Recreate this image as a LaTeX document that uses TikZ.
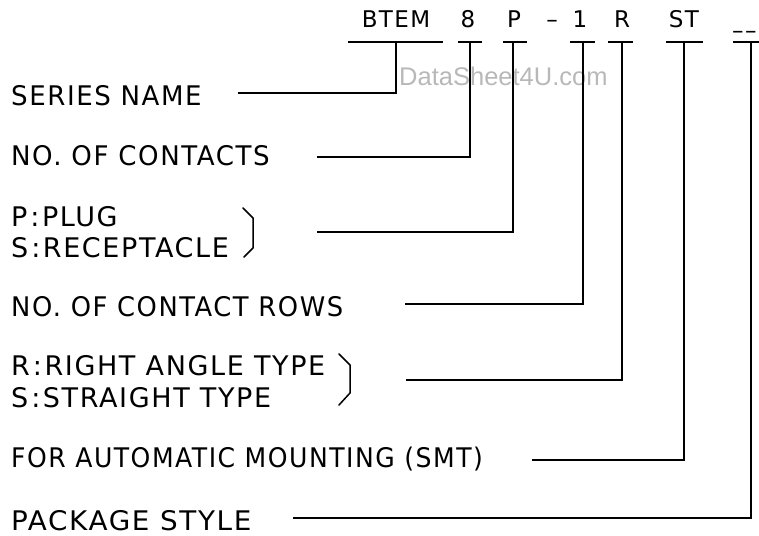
\documentclass[tikz,border=0pt]{standalone}
\usepackage{graphicx}
\usepackage{fontspec}
\setmainfont{DejaVu Sans}[LetterSpace=6]
\newfontfamily\wmfont{Liberation Sans}
\newcommand\hsq[2]{\scalebox{#1}[1]{#2}}
\newcommand\cln{\hspace{3pt}:\hspace{2.5pt}}
\begin{document}
\begin{tikzpicture}[x=1pt,y=-1pt,
  lbl/.style={anchor=base west, inner sep=0pt, font=\fontsize{27}{29}\selectfont},
  code/.style={anchor=base, inner sep=0pt, font=\fontsize{23}{25}\selectfont},
  wire/.style={line width=1.5pt, line join=miter},
  brace/.style={line width=1.5pt, line join=round, line cap=round}]
\useasboundingbox (0,0) rectangle (759,535);
% watermark
\node[text=black!28, font=\wmfont\fontsize{25.5}{27}\selectfont, anchor=base west, inner sep=0pt] (wm) at (399,85) {DataSheet4U.com};
% code letters
\node[code] (cB) at (396,28) {BTEM};
\node[code] (c8) at (468,28) {8};
\node[code] (cP) at (514,28) {P};
\node[code] (cd) at (552,28) {\textendash};
\node[code] (c1) at (580,28) {1};
\node[code] (cR) at (622,28) {R};
\node[code] (cST) at (684,28) {ST};
\node[code, anchor=base west] (cX) at (732,39) {\textendash\textendash};
% labels
\node[lbl] (lSeries) at (11,105) {\hsq{0.965}{SERIES NAME}};
\node[lbl] (lNo) at (11,165) {\hsq{0.966}{NO. OF CONTACTS}};
\node[lbl] (lP) at (11,226) {P\cln PLUG};
\node[lbl] (lS) at (11,257) {S\cln RECEPTACLE};
\node[lbl] (lRows) at (11,316) {\hsq{0.955}{NO. OF CONTACT ROWS}};
\node[lbl] (lR) at (11,375) {R\cln RIGHT ANGLE TYPE};
\node[lbl] (lSt) at (11,407) {S\cln STRAIGHT TYPE};
\node[lbl] (lSmt) at (11,467) {\hsq{0.93}{FOR AUTOMATIC MOUNTING (SMT)}};
\node[lbl] (lPk) at (11,530) {\hsq{1.03}{PACKAGE STYLE}};
% underline junctions
\coordinate (jB) at (396,42);
\coordinate (j8) at (470,42);
\coordinate (jP) at (513,42);
\coordinate (j1) at (583,42);
\coordinate (jR) at (622,42);
\coordinate (jST) at (684,42);
\coordinate (jX) at (751,42);
% underlines
\draw[wire] (348,42) -- (443,42);
\draw[wire] (458,42) -- (482,42);
\draw[wire] (503,42) -- (527,42);
\draw[wire] (570,42) -- (595,42);
\draw[wire] (608,42) -- (633,42);
\draw[wire] (666,42) -- (703,42);
\draw[wire] (733,42) -- (762,42);
% leader line starts
\coordinate (sSeries) at (238,93);
\coordinate (sNo) at (317,157);
\coordinate (sP) at (317,232);
\coordinate (sRows) at (405,304);
\coordinate (sR) at (406,380);
\coordinate (sSmt) at (532,460);
\coordinate (sPk) at (293,518);
% leaders
\draw[wire] (jB) |- (sSeries);
\draw[wire] (j8) |- (sNo);
\draw[wire] (jP) |- (sP);
\draw[wire] (j1) |- (sRows);
\draw[wire] (jR) |- (sR);
\draw[wire] (jST) |- (sSmt);
\draw[wire] (jX) |- (sPk);
% braces
\draw[brace] (243,208) -- (253,218) -- (253,248) -- (244,257);
\draw[brace] (339,354) -- (350,365) -- (350,393) -- (339,405);
\end{tikzpicture}
\end{document}
